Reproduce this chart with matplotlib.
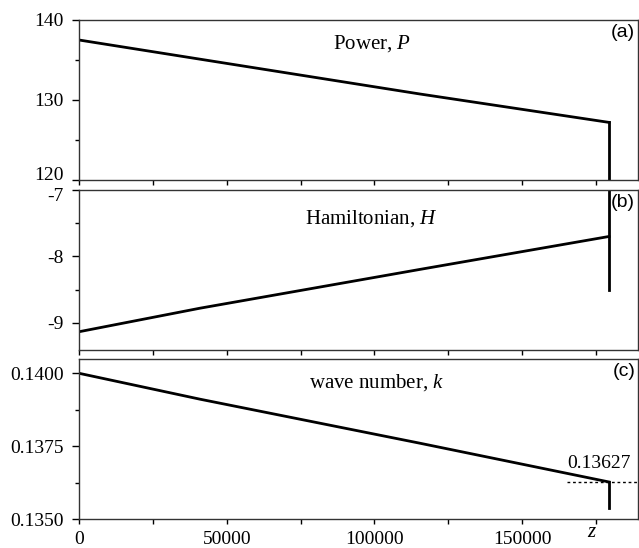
import matplotlib
matplotlib.use('Agg')
import matplotlib.pyplot as plt
import matplotlib.transforms as mtransforms
from matplotlib.ticker import MultipleLocator, FixedLocator

# values
z = [0, 41000, 115400, 179400]
power = [137.5, 135.1, 130.75, 127.2]
hamiltonian = [-9.135, -8.78, -8.196, -7.70]
wavenumber = [0.14000, 0.13911, 0.13760, 0.13627]

z_end = 179400
power_drop = [127.2, 119.0]
hamiltonian_drop = [-8.51, -6.8]
wavenumber_drop = [0.13627, 0.13538]
k_final = 0.13627
k_label = '0.13627'

titles = ['Power, $P$', 'Hamiltonian, $H$', 'wave number, $k$']
panel_tags = ['(a)', '(b)', '(c)']
ylims = [(120, 140), (-9.41, -7), (0.1350, 0.14049)]
yticks = [[120, 130, 140], [-9, -8, -7], [0.1350, 0.1375, 0.1400]]
yticklabels = [['120', '130', '140'], ['-9', '-8', '-7'],
               ['0.1350', '0.1375', '0.1400']]
yminor = [[125, 135], [-8.5, -7.5], [0.13625, 0.13875]]
xticks = [0, 50000, 100000, 150000]
title_pos = [(0.454, 0.819), (0.404, 0.7875), (0.411, 0.819)]

plt.rcParams['font.family'] = 'Liberation Serif'
plt.rcParams['mathtext.fontset'] = 'custom'
plt.rcParams['mathtext.it'] = 'Liberation Serif:italic'
plt.rcParams['mathtext.rm'] = 'Liberation Serif'

fig = plt.figure(figsize=(6.39, 5.48), dpi=100)
W, H = 639, 548
left, right = 79, 638
boxes = [(20, 180), (190, 350), (359, 519)]

series = [power, hamiltonian, wavenumber]
drops = [power_drop, hamiltonian_drop, wavenumber_drop]

axes = []
for i, (top, bot) in enumerate(boxes):
    ax = fig.add_axes([left / W, 1 - bot / H, (right - left) / W, (bot - top) / H])
    axes.append(ax)
    ax.plot(z, series[i], 'k-', lw=2.0, solid_joinstyle='miter')
    ax.plot([z_end, z_end], drops[i], 'k-', lw=2.0)
    ax.set_xlim(0, 189200)
    ax.set_ylim(*ylims[i])
    ax.set_yticks(yticks[i])
    ax.set_yticklabels(yticklabels[i])
    ax.yaxis.set_minor_locator(FixedLocator(yminor[i]))
    ax.set_xticks(xticks)
    ax.xaxis.set_minor_locator(MultipleLocator(25000))
    ax.tick_params(axis='y', which='major', direction='out', length=5,
                   width=1, labelsize=14, pad=6)
    ax.tick_params(axis='y', which='minor', direction='out', length=3, width=1)
    ax.tick_params(axis='x', which='both', direction='out', length=3.5,
                   width=1, labelsize=14, pad=5)
    if i < 2:
        ax.tick_params(axis='x', labelbottom=False)
    for sp in ax.spines.values():
        sp.set_linewidth(1.0)
        sp.set_color('0.2')
    ax.text(*title_pos[i], titles[i], transform=ax.transAxes,
            ha='left', va='baseline', fontsize=15)
    ax.text(0.995, 0.975, panel_tags[i], transform=ax.transAxes,
            ha='right', va='top', fontsize=14, family='Liberation Sans')

# keep the "120" and "-7" labels apart, as in the reference
fig.canvas.draw()
lab_120 = axes[0].get_yticklabels()[0]
lab_120.set_transform(lab_120.get_transform() +
                      mtransforms.ScaledTranslation(0, 5 / 72, fig.dpi_scale_trans))
lab_m7 = axes[1].get_yticklabels()[-1]
lab_m7.set_transform(lab_m7.get_transform() +
                     mtransforms.ScaledTranslation(0, -3 / 72, fig.dpi_scale_trans))

axc = axes[2]
axc.plot([165100, 189200], [k_final, k_final], color='k', lw=1.0,
         linestyle=(0, (2, 2)))
axc.text(165100, 0.13675, k_label, ha='left', va='baseline', fontsize=14)
axc.text(173700, -0.11, '$z$', transform=axc.get_xaxis_transform(),
         ha='center', va='baseline', fontsize=15)

fig.savefig('out.png', dpi=100)
